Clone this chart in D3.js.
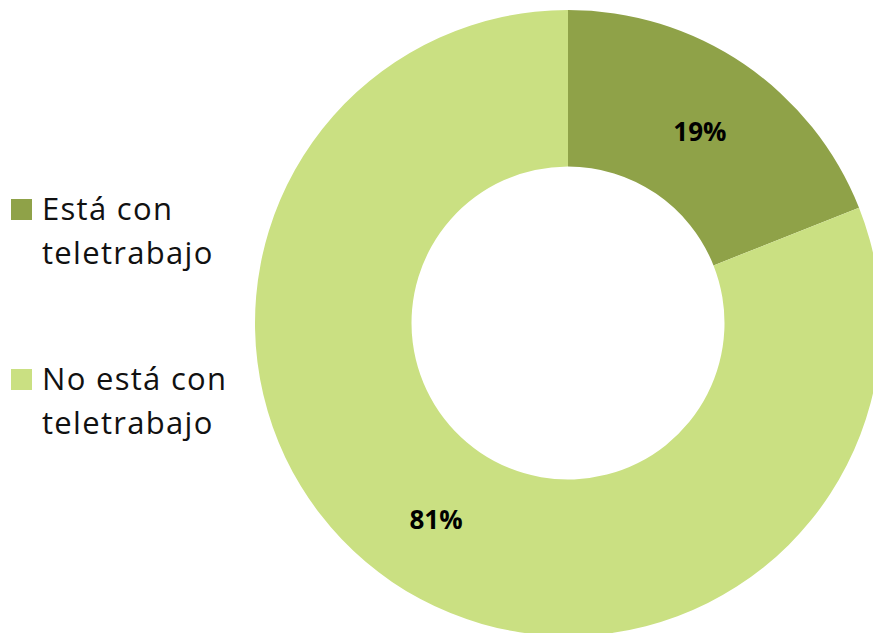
<!DOCTYPE html>
<html>
<head>
<meta charset="utf-8">
<script src="https://cdn.jsdelivr.net/npm/d3@7"></script>
<style>
  html, body { margin: 0; padding: 0; background: #fff; overflow: hidden; }
  svg { display: block; }
</style>
</head>
<body>
<svg id="chart" width="873" height="633"></svg>
<script>
const categories = ["Está con teletrabajo", "No está con teletrabajo"];
const legendLines = [["Está con", "teletrabajo"], ["No está con", "teletrabajo"]];
const values = [19, 81];
const valueLabels = ["19%", "81%"];
const colors = ["#8FA248", "#CAE082"];

const svg = d3.select("#chart");
const cx = 568, cy = 323, outerR = 313, innerR = 156.5;

const pie = d3.pie().sort(null).value(d => d)(values);
const arc = d3.arc().innerRadius(innerR).outerRadius(outerR);
const labelArc = d3.arc().innerRadius(innerR).outerRadius(outerR);

const g = svg.append("g").attr("transform", `translate(${cx},${cy})`);
g.selectAll("path").data(pie).join("path")
  .attr("d", arc)
  .attr("fill", (d, i) => colors[i]);

g.selectAll("text").data(pie).join("text")
  .attr("transform", d => `translate(${labelArc.centroid(d)})`)
  .attr("text-anchor", "middle")
  .attr("dy", "0.45em")
  .attr("font-family", "'Open Sans', sans-serif")
  .attr("font-weight", "bold")
  .attr("font-size", 26)
  .attr("fill", "#000")
  .text((d, i) => valueLabels[i]);

const leg = svg.append("g");
const legY = [199, 369];
categories.forEach((c, i) => {
  const row = leg.append("g").attr("transform", `translate(11,${legY[i]})`);
  row.append("rect").attr("width", 21).attr("height", 21).attr("fill", colors[i]);
  const t = row.append("text")
    .attr("x", 31)
    .attr("y", 21)
    .attr("font-family", "'Open Sans', sans-serif")
    .attr("font-size", 31)
    .attr("letter-spacing", 1.3)
    .attr("fill", "#111");
  legendLines[i].forEach((ln, j) => {
    t.append("tspan").attr("x", 31).attr("dy", j === 0 ? 0 : 44).text(ln);
  });
});
</script>
</body>
</html>
